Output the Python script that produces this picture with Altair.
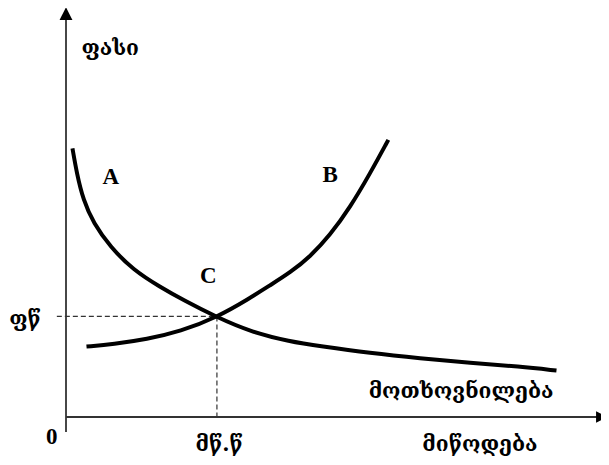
import altair as alt
import pandas as pd

# Demand curve (A)
dem_x = [1.2, 2.0, 3.2, 5.1, 8.2, 12.5, 17.4, 21.8, 28.0, 34.1, 41.6, 47.1, 56.4, 65.7, 75.0, 84.2, 91.0]
dem_y = [66.0, 59.9, 53.3, 47.6, 41.8, 36.1, 32.0, 28.7, 24.5, 21.0, 18.5, 17.4, 15.7, 14.4, 13.3, 12.4, 11.4]
# Supply curve (B)
sup_x = [3.8, 8.8, 15.0, 21.2, 28.0, 34.1, 37.9, 41.6, 45.3, 49.0, 52.7, 56.4, 59.8]
sup_y = [17.3, 17.9, 19.1, 21.0, 24.5, 29.2, 32.4, 35.5, 39.4, 44.7, 51.5, 59.8, 68.1]
# Equilibrium
eq_x = 28.0
eq_y = 24.7

labels = ["ფასი", "ფწ", "მწ.წ", "მიწოდება", "მოთხოვნილება", "0", "A", "B", "C"]
lab_x = [8.2, -7.6, 28.4, 76.8, 73.3, -2.65, 8.3, 49.0, 26.4]
lab_y = [88.9, 22.4, -8.4, -8.4, 4.7, -6.6, 57.2, 57.8, 32.9]

X = alt.Scale(domain=[0, 100], range=[58, 597], nice=False, zero=False)
Y = alt.Scale(domain=[0, 100], range=[409, 2], nice=False, zero=False)

dem = pd.DataFrame({"x": dem_x, "y": dem_y, "o": range(len(dem_x))})
sup = pd.DataFrame({"x": sup_x, "y": sup_y, "o": range(len(sup_x))})

def curve(df):
    return alt.Chart(df).mark_line(color="black", strokeWidth=4, interpolate="basis").encode(
        x=alt.X("x:Q", scale=X, axis=None),
        y=alt.Y("y:Q", scale=Y, axis=None),
        order="o:Q",
    )

axes = pd.DataFrame({"x": [0, 0], "x2": [0, 99.0], "y": [-3.7, 0], "y2": [99.0, 0]})
axis_rules = alt.Chart(axes).mark_rule(color="#333", strokeWidth=1.8).encode(
    x=alt.X("x:Q", scale=X, axis=None), x2="x2:Q",
    y=alt.Y("y:Q", scale=Y, axis=None), y2="y2:Q",
)

yarrow = alt.Chart(pd.DataFrame({"x": [0], "y": [99.1]})).mark_point(
    shape="M0,-1L1,1L-1,1Z", filled=True, color="black", size=165, opacity=1
).encode(x=alt.X("x:Q", scale=X, axis=None), y=alt.Y("y:Q", scale=Y, axis=None))
xarrow = alt.Chart(pd.DataFrame({"x": [99.4], "y": [0]})).mark_point(
    shape="M-1,-1L1,0L-1,1Z", filled=True, color="black", size=130, opacity=1
).encode(x=alt.X("x:Q", scale=X, axis=None), y=alt.Y("y:Q", scale=Y, axis=None))

dash = pd.DataFrame({"x": [-1.7, eq_x], "x2": [eq_x, eq_x], "y": [eq_y, eq_y], "y2": [eq_y, 0]})
dashes = alt.Chart(dash).mark_rule(color="#333", strokeWidth=1.2, strokeDash=[5, 3]).encode(
    x=alt.X("x:Q", scale=X, axis=None), x2="x2:Q",
    y=alt.Y("y:Q", scale=Y, axis=None), y2="y2:Q",
)

lab = pd.DataFrame({"t": labels, "x": lab_x, "y": lab_y})
geo = alt.Chart(lab.iloc[:5]).mark_text(
    font="DejaVu Serif", fontSize=21, fontWeight="bold", color="black", align="center", baseline="alphabetic"
).encode(x=alt.X("x:Q", scale=X, axis=None), y=alt.Y("y:Q", scale=Y, axis=None), text="t:N")
lat = alt.Chart(lab.iloc[5:]).mark_text(
    font="Liberation Serif", fontSize=23, fontWeight="bold", color="black", align="center", baseline="alphabetic"
).encode(x=alt.X("x:Q", scale=X, axis=None), y=alt.Y("y:Q", scale=Y, axis=None), text="t:N")

chart = alt.layer(dashes, axis_rules, yarrow, xarrow, curve(dem), curve(sup), geo, lat).properties(
    width=593, height=449, autosize=alt.AutoSizeParams(type="none"), padding=0, background="white"
).configure_view(stroke=None)

chart.save("out.html", embed_options={"renderer": "svg", "actions": False})
